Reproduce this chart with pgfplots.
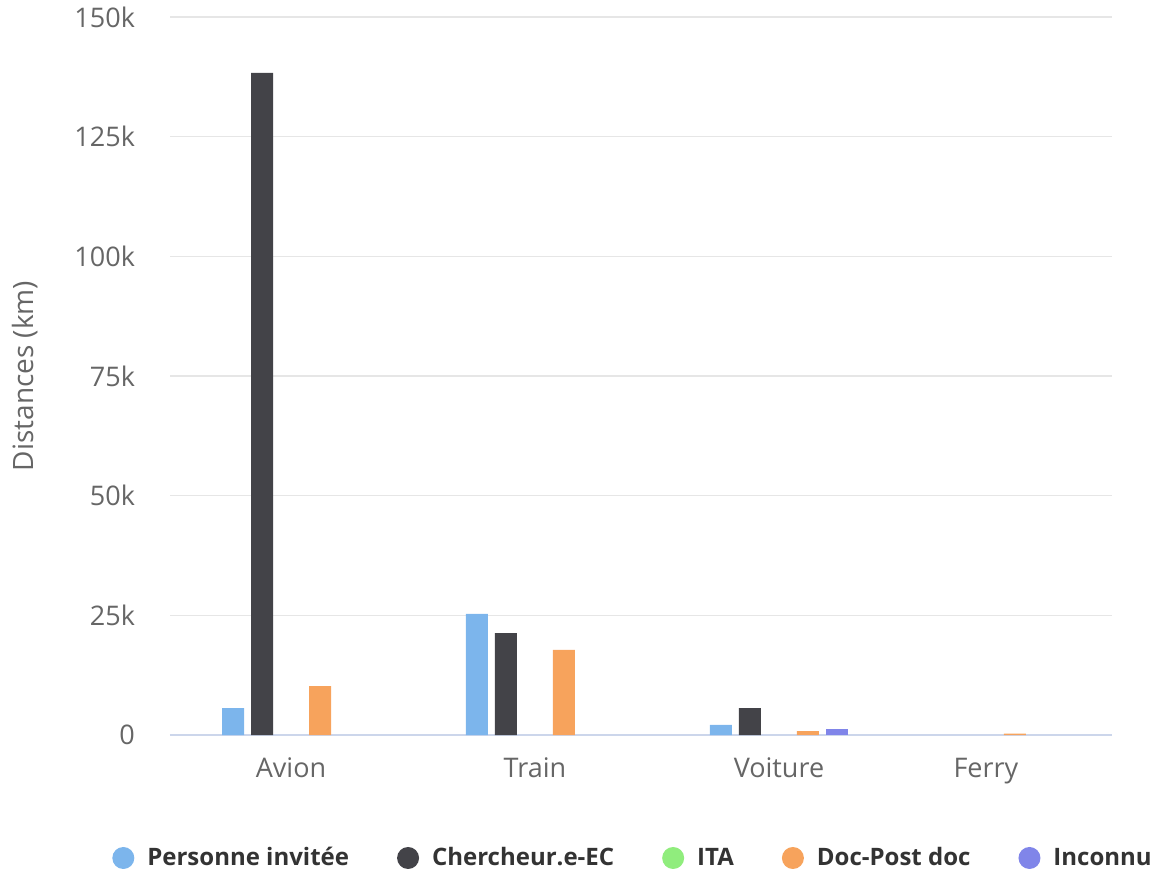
\documentclass[border=0pt]{standalone}
\usepackage{fontspec}
\setmainfont{Open Sans}
\usepackage{pgfplots}
\pgfplotsset{compat=1.18}
\definecolor{c1}{HTML}{7CB5EC}
\definecolor{c2}{HTML}{434348}
\definecolor{c3}{HTML}{90ED7D}
\definecolor{c4}{HTML}{F7A35C}
\definecolor{c5}{HTML}{8085E9}
\definecolor{tick}{HTML}{666666}
\definecolor{leg}{HTML}{333333}
\definecolor{gridc}{HTML}{E6E6E6}
\definecolor{axc}{HTML}{CCD6EB}
\pgfplotsset{circleleg/.style={legend image code/.code={\fill[#1,draw=none] (5.5pt,0pt) circle (5.5pt);}}}
\begin{document}
\begin{tikzpicture}
\begin{axis}[
 name=ax,
 scale only axis, width=471pt, height=359pt,
 xmin=-0.496, xmax=3.365, ymin=0, ymax=150000,
 ybar=3.5pt, bar width=11pt,
 xtick={0,1,2,2.848}, xticklabels={Avion,Train,Voiture,Ferry},
 ytick={0,25000,50000,75000,100000,125000,150000},
 yticklabels={0,25k,50k,75k,100k,125k,150k},
 scaled y ticks=false,
 axis x line*=bottom, axis y line*=left,
 y axis line style={draw=none},
 x axis line style={draw=axc, line width=0.6pt, -},
 major tick length=0pt,
 ymajorgrids, grid style={draw=gridc, line width=0.6pt},
 tick label style={font=\fontsize{13.5}{16}\selectfont, text=tick},
 xticklabel style={anchor=base, yshift=-21pt},
 yticklabel style={xshift=-14pt},
 ylabel={Distances (km)},
 ylabel style={at={(axis description cs:-0.1539,0.5)}, anchor=center, font=\fontsize{14}{16}\selectfont, text=tick},
 legend columns=5,
 legend style={draw=none, fill=none, at={(axis description cs:0.4926,-0.1713)}, anchor=center,
   font=\bfseries\fontsize{12}{14}\selectfont, text=leg,
   /tikz/every odd column/.append style={column sep=4.5pt},
   /tikz/every even column/.append style={column sep=22pt}},
 legend cell align=left,
]
\addplot[fill=c1, draw=none, circleleg=c1] coordinates {(0,5600) (1,25300) (2,2100)};
\addplot[fill=c2, draw=none, circleleg=c2] coordinates {(0,138300) (1,21300) (2,5600)};
\addplot[fill=none, draw=none, circleleg=c3] coordinates {(0,0)};
\addplot[fill=c4, draw=none, circleleg=c4] coordinates {(0,10200) (1,17800) (2,800) (2.848,300)};
\addplot[fill=c5, draw=none, circleleg=c5] coordinates {(2,1200)};
\legend{Personne invitée, Chercheur.e-EC, ITA, Doc-Post doc, Inconnu}
\end{axis}
\pgfresetboundingbox
\path ([shift={(-85pt,-68.5pt)}]ax.south west) rectangle ([shift={(22pt,8.5pt)}]ax.north east);
\end{tikzpicture}
\end{document}
